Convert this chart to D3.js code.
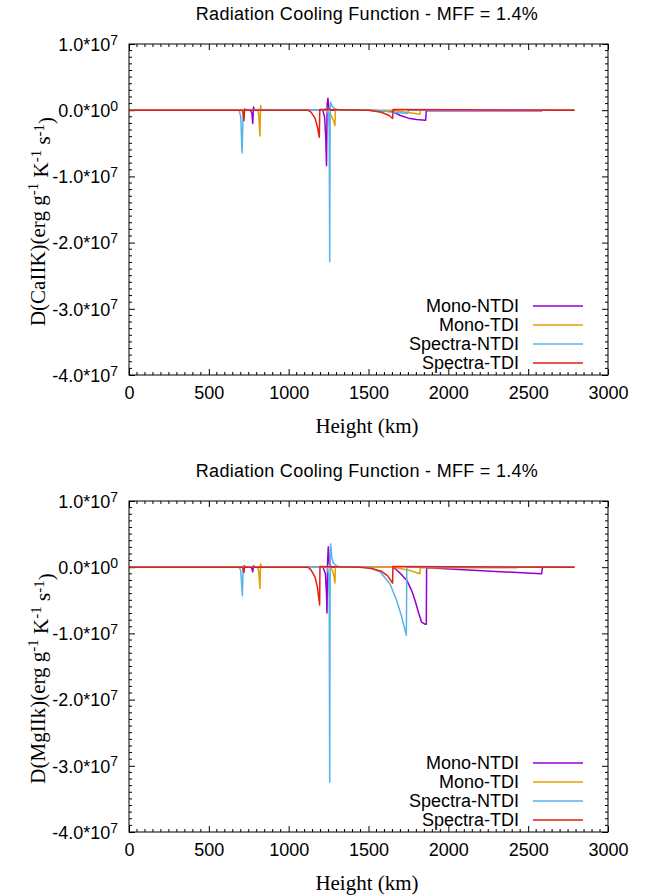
<!DOCTYPE html>
<html><head><meta charset="utf-8">
<script src="https://cdn.jsdelivr.net/npm/d3@7"></script>
<style>
body{margin:0;background:#fff;}
svg{display:block;}
.sans{font-family:"Liberation Sans",Arial,sans-serif;}
.serif{font-family:"Liberation Serif","Times New Roman",serif;}
</style></head>
<body>
<script>
// ---------- data (values in units of 1e7 erg g^-1 K^-1 s^-1) ----------
const seriesNames = ["Mono-NTDI","Mono-TDI","Spectra-NTDI","Spectra-TDI"];
const seriesColors = ["#9400d3","#e69f00","#56b4e9","#e51e10"];
const xTicks = [0,500,1000,1500,2000,2500,3000];
const yTicks = [1,0,-1,-2,-3,-4];
const yTickLabels = [["1.0","7"],["0.0","0"],["-1.0","7"],["-2.0","7"],["-3.0","7"],["-4.0","7"]];

// Top panel: CaIIK
const caMonoNTDI_h = [0,760,770,775,780,785,1213,1225,1232,1237,1241,1246,1252,1262,1500,1650,1700,1750,1800,1858,1862,2584,2590,2790];
const caMonoNTDI_v = [0,0,-0.05,-0.2,0.05,0,0,-0.1,-0.4,-0.84,0.1,0.18,0.03,0,0,-0.02,-0.08,-0.12,-0.14,-0.15,-0.005,-0.01,0,0];
const caMonoTDI_h = [0,805,812,820,824,830,1210,1230,1260,1280,1290,1293,1300,1650,1700,1760,1822,1826,2790];
const caMonoTDI_v = [0,0,-0.05,-0.39,0.07,0,0,0.02,-0.05,-0.15,-0.23,0.02,0,0,-0.02,-0.04,-0.06,0,0];
const caSpecNTDI_h = [0,690,700,708,715,725,1235,1250,1254,1257,1260,1263,1272,1290,1320,1550,1650,1700,1746,1750,2790];
const caSpecNTDI_v = [0,0,-0.1,-0.645,-0.05,0.01,0,-0.05,-0.3,-2.29,0.05,0.12,0.06,0.02,0,0,-0.03,-0.04,-0.05,0,0];
const caSpecTDI_h = [0,710,715,720,724,730,1120,1140,1165,1180,1192,1195,1500,1580,1630,1651,1654,2790];
const caSpecTDI_v = [0,0,-0.05,-0.16,0.02,0,0,-0.03,-0.12,-0.25,-0.41,0.01,0,-0.03,-0.08,-0.125,0.01,0];

// Bottom panel: MgIIk
const mgMonoNTDI_h = [0,765,770,775,780,790,1215,1230,1237,1240,1244,1248,1255,1270,1653,1680,1710,1740,1770,1791,1815,1833,1853,1862,1864,2584,2590,2790];
const mgMonoNTDI_v = [0,0,-0.02,-0.07,0.02,0,0,-0.1,-0.4,-0.69,0.1,0.31,0.05,0,0,-0.05,-0.12,-0.2,-0.35,-0.5,-0.7,-0.83,-0.86,-0.86,-0.01,-0.1,0,0];
const mgMonoTDI_h = [0,805,812,820,824,830,1260,1275,1285,1290,1293,1300,1650,1700,1760,1822,1825,2428,2432,2790];
const mgMonoTDI_v = [0,0,-0.05,-0.32,0.05,0,0,-0.05,-0.15,-0.24,0.02,0,0,-0.02,-0.05,-0.1,-0.01,-0.01,0,0];
const mgSpecNTDI_h = [0,690,700,710,715,725,1240,1250,1254,1257,1260,1263,1270,1280,1300,1330,1450,1509,1572,1634,1676,1708,1737,1740,2790];
const mgSpecNTDI_v = [0,0,-0.05,-0.43,0.02,0,0,-0.1,-0.5,-3.25,0.15,0.35,0.15,0.06,0.02,0,0,-0.01,-0.07,-0.25,-0.5,-0.75,-1.03,0,0];
const mgSpecTDI_h = [0,710,715,720,724,730,1120,1140,1165,1180,1194,1196,1450,1520,1580,1620,1651,1653,2790];
const mgSpecTDI_v = [0,0,-0.03,-0.08,0.02,0,0,-0.04,-0.15,-0.3,-0.57,0.01,0,-0.02,-0.06,-0.13,-0.24,0.01,0];

const panels = [
  {title:"Radiation Cooling Function - MFF = 1.4%", ylab:"D(CaIIK)(erg g", top:44, bottom:375,
   series:[[caMonoNTDI_h,caMonoNTDI_v],[caMonoTDI_h,caMonoTDI_v],[caSpecNTDI_h,caSpecNTDI_v],[caSpecTDI_h,caSpecTDI_v]]},
  {title:"Radiation Cooling Function - MFF = 1.4%", ylab:"D(MgIIk)(erg g", top:501, bottom:832,
   series:[[mgMonoNTDI_h,mgMonoNTDI_v],[mgMonoTDI_h,mgMonoTDI_v],[mgSpecNTDI_h,mgSpecNTDI_v],[mgSpecTDI_h,mgSpecTDI_v]]}
];

const W = 652, H = 896;
const left = 129, right = 608;
const svg = d3.select("body").append("svg").attr("width",W).attr("height",H);

panels.forEach(p => {
  const g = svg.append("g");
  const x = d3.scaleLinear().domain([0,3000]).range([left,right]);
  const y = d3.scaleLinear().domain([-4,1]).range([p.bottom,p.top]);

  // minor ticks
  const xMinor = d3.range(0,3001,50).filter(v => v%500!==0);
  const yMinor = d3.range(-40,11,1).map(v=>v/10).filter(v => Math.abs(v-Math.round(v))>1e-6);
  const tk = g.append("g").attr("stroke","#000").attr("stroke-width",1);
  xMinor.forEach(v=>{
    tk.append("line").attr("x1",x(v)).attr("x2",x(v)).attr("y1",p.bottom).attr("y2",p.bottom-3);
    tk.append("line").attr("x1",x(v)).attr("x2",x(v)).attr("y1",p.top).attr("y2",p.top+3);
  });
  yMinor.forEach(v=>{
    tk.append("line").attr("x1",left).attr("x2",left+3).attr("y1",y(v)).attr("y2",y(v));
    tk.append("line").attr("x1",right).attr("x2",right-3).attr("y1",y(v)).attr("y2",y(v));
  });

  // axes (major ticks)
  const xAxis = g.append("g").attr("transform",`translate(0,${p.bottom})`)
    .call(d3.axisBottom(x).tickValues(xTicks).tickSizeInner(-6).tickSizeOuter(0).tickPadding(11).tickFormat(d3.format("d")));
  xAxis.select(".domain").remove();
  xAxis.selectAll("text").attr("class","sans").style("font-size","18px").attr("fill","#000");
  const xTop = g.append("g").attr("transform",`translate(0,${p.top})`)
    .call(d3.axisTop(x).tickValues(xTicks).tickSizeInner(-6).tickSizeOuter(0).tickFormat(""));
  xTop.select(".domain").remove();

  const yAxis = g.append("g").attr("transform",`translate(${left},0)`)
    .call(d3.axisLeft(y).tickValues(yTicks).tickSizeInner(-6).tickSizeOuter(0).tickPadding(12).tickFormat(""));
  yAxis.select(".domain").remove();
  yAxis.selectAll(".tick").each(function(d,i){
    const t = d3.select(this).select("text").attr("class","sans").style("font-size","18px")
      .attr("fill","#000").attr("x",-11).attr("dy","0.35em").text(null);
    const lab = yTickLabels[yTicks.indexOf(d)];
    t.append("tspan").text(lab[0]+"*10");
    t.append("tspan").attr("dy","-0.45em").style("font-size","14px").text(lab[1]);
  });
  const yRight = g.append("g").attr("transform",`translate(${right},0)`)
    .call(d3.axisRight(y).tickValues(yTicks).tickSizeInner(-6).tickSizeOuter(0).tickFormat(""));
  yRight.select(".domain").remove();

  // series
  const line = d3.line().x(d=>x(d[0])).y(d=>y(d[1]));
  const clipId = "clip"+p.top;
  svg.append("clipPath").attr("id",clipId).append("rect")
    .attr("x",left).attr("y",p.top).attr("width",right-left).attr("height",p.bottom-p.top);
  [0,1,2,3].forEach(i=>{
    const [hs,vs] = p.series[i];
    const pts = hs.map((h,k)=>[h,vs[k]]);
    g.append("path").datum(pts).attr("d",line).attr("fill","none")
      .attr("stroke",seriesColors[i]).attr("stroke-width",1.5)
      .attr("stroke-linejoin","round").attr("clip-path",`url(#${clipId})`);
  });

  // frame
  g.append("rect").attr("x",left).attr("y",p.top).attr("width",right-left).attr("height",p.bottom-p.top)
    .attr("fill","none").attr("stroke","#000").attr("stroke-width",1);

  // legend
  const lg = g.append("g");
  seriesNames.forEach((n,i)=>{
    const yy = p.bottom - 69 + i*19;
    lg.append("text").attr("class","sans").attr("x",519).attr("y",yy).attr("dy","0.35em")
      .attr("text-anchor","end").style("font-size","18px").text(n);
    lg.append("line").attr("x1",533).attr("x2",583).attr("y1",yy).attr("y2",yy)
      .attr("stroke",seriesColors[i]).attr("stroke-width",1.5);
  });

  // title
  g.append("text").attr("class","sans").attr("x",367).attr("y",p.top-24)
    .attr("text-anchor","middle").style("font-size","18px").style("letter-spacing","0.3px").text(p.title);

  // x label
  g.append("text").attr("class","serif").attr("x",367).attr("y",p.bottom+58)
    .attr("text-anchor","middle").style("font-size","21px").text("Height (km)");

  // y label
  const cy = (p.top+p.bottom)/2 + 12;
  const yl = g.append("text").attr("class","serif").attr("transform",`translate(45,${cy}) rotate(-90)`)
    .attr("text-anchor","middle").style("font-size","21px");
  yl.append("tspan").text(p.ylab);
  yl.append("tspan").attr("dy","-0.45em").style("font-size","15px").text("-1");
  yl.append("tspan").attr("dy","0.45em").text(" K");
  yl.append("tspan").attr("dy","-0.45em").style("font-size","15px").text("-1");
  yl.append("tspan").attr("dy","0.45em").text(" s");
  yl.append("tspan").attr("dy","-0.45em").style("font-size","15px").text("-1");
  yl.append("tspan").attr("dy","0.45em").text(")");
});
</script>
</body></html>
